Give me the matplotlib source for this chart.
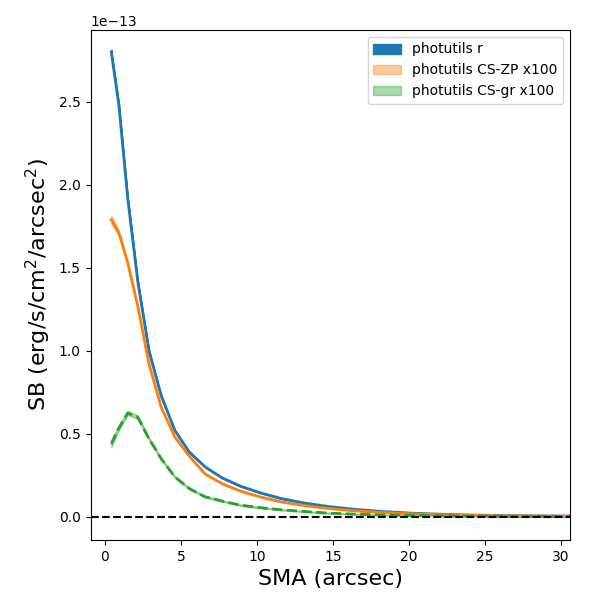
import matplotlib

matplotlib.use("Agg")

import matplotlib.pyplot as plt

# semi-major axis samples (arcsec)
sma = [0.42, 0.92, 1.5, 2.16, 2.9, 3.7, 4.6, 5.55, 6.6, 7.7, 8.9, 10.2,
       11.6, 13.1, 14.7, 16.4, 18.2, 20.1, 22.1, 24.2, 26.4, 28.7, 31.1]

# surface brightness profiles, in units of 1e-13 erg/s/cm2/arcsec2
sb_r = [2.80, 2.48, 1.92, 1.42, 1.00, 0.73, 0.52, 0.39, 0.30, 0.235, 0.185, 0.145,
        0.11, 0.083, 0.062, 0.045, 0.032, 0.022, 0.015, 0.010, 0.007, 0.005, 0.004]
sb_zp = [1.79, 1.71, 1.53, 1.27, 0.92, 0.66, 0.48, 0.365, 0.257, 0.20, 0.155, 0.12,
         0.09, 0.068, 0.05, 0.036, 0.026, 0.018, 0.012, 0.008, 0.005, 0.004, 0.003]
sb_gr = [0.44, 0.535, 0.625, 0.60, 0.47, 0.35, 0.24, 0.17, 0.12, 0.095, 0.07, 0.055,
         0.042, 0.032, 0.022, 0.016, 0.011, 0.008, 0.005, 0.004, 0.003, 0.002, 0.002]

# 1-sigma uncertainties (same units)
err_r = [0.012, 0.010, 0.008, 0.006, 0.005, 0.004, 0.003, 0.003, 0.002, 0.002, 0.002, 0.002,
         0.002, 0.001, 0.001, 0.001, 0.001, 0.001, 0.001, 0.001, 0.001, 0.001, 0.001]
err_zp = [0.025, 0.015, 0.010, 0.008, 0.006, 0.005, 0.004, 0.003, 0.003, 0.002, 0.002, 0.002,
          0.002, 0.002, 0.001, 0.001, 0.001, 0.001, 0.001, 0.001, 0.001, 0.001, 0.001]
err_gr = [0.020, 0.015, 0.012, 0.010, 0.008, 0.007, 0.006, 0.005, 0.005, 0.004, 0.004, 0.004,
          0.003, 0.003, 0.003, 0.003, 0.003, 0.002, 0.002, 0.002, 0.002, 0.002, 0.002]

SCALE = 1e-13


def scaled(values):
    return [v * SCALE for v in values]


fig, ax = plt.subplots(figsize=(6, 6), dpi=100)
fig.subplots_adjust(left=0.151, right=0.95, bottom=0.1, top=0.95)

profiles = [
    (sb_r, err_r, "C0", 1.0, "-", "photutils r"),
    (sb_zp, err_zp, "C1", 0.4, "-", "photutils CS-ZP x100"),
    (sb_gr, err_gr, "C2", 0.4, "--", "photutils CS-gr x100"),
]

for sb, err, color, alpha, ls, label in profiles:
    lo = [s - e for s, e in zip(sb, err)]
    hi = [s + e for s, e in zip(sb, err)]
    ax.fill_between(sma, scaled(lo), scaled(hi), color=color, alpha=alpha, label=label)
    ax.plot(sma, scaled(sb), color=color, ls=ls, lw=2)

ax.axhline(0, color="k", ls="--")

ax.set_xlim(-0.94, 30.6)
ax.set_ylim(-0.14 * SCALE, 2.932 * SCALE)

ax.set_xlabel("SMA (arcsec)", fontsize=16)
ax.set_ylabel("SB (erg/s/cm$^2$/arcsec$^2$)", fontsize=16)
ax.legend(loc="upper right")

fig.savefig("out.png", dpi=100)
